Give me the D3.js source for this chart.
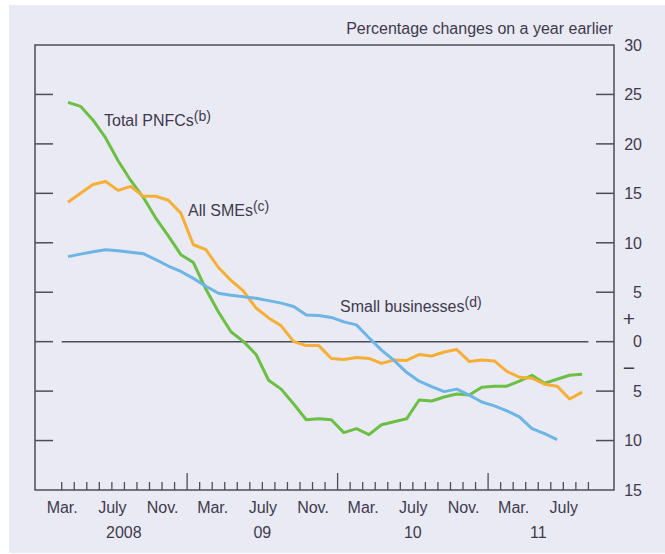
<!DOCTYPE html>
<html>
<head>
<meta charset="utf-8">
<script src="https://cdn.jsdelivr.net/npm/d3@7"></script>
<style>
  html, body { margin: 0; padding: 0; background: #ffffff; }
  svg { display: block; }
  text { font-family: "Liberation Sans", Arial, sans-serif; fill: #3e3a4e; }
</style>
</head>
<body>
<svg id="chart" width="665" height="554"></svg>
<script>
// ---- Data (monthly, March 2008 onwards) ----
const startMonth = "Mar. 2008";
const totalPNFCs = [24.2, 23.8, 22.4, 20.6, 18.3, 16.3, 14.6, 12.5, 10.7, 8.8,
  8.0, 5.3, 3.0, 1.0, 0.0, -1.3, -3.9, -4.8, -6.3, -7.9,
  -7.8, -7.9, -9.2, -8.8, -9.4, -8.4, -8.1, -7.8, -5.9, -6.0,
  -5.6, -5.3, -5.4, -4.6, -4.5, -4.5, -4.0, -3.4, -4.2, -3.8,
  -3.4, -3.3];
const allSMEs = [14.1, 15.0, 15.9, 16.2, 15.3, 15.7, 14.7, 14.7, 14.3, 13.0,
  9.8, 9.3, 7.5, 6.2, 5.1, 3.4, 2.4, 1.6, 0.0, -0.4,
  -0.4, -1.7, -1.8, -1.6, -1.7, -2.2, -1.85, -1.9, -1.3, -1.45,
  -1.05, -0.8, -2.0, -1.85, -1.95, -3.0, -3.6, -3.7, -4.3, -4.5,
  -5.8, -5.1];
const smallBusinesses = [8.6, 8.85, 9.1, 9.3, 9.2, 9.05, 8.9, 8.3, 7.65, 7.1,
  6.4, 5.6, 4.9, 4.7, 4.55, 4.4, 4.15, 3.9, 3.55, 2.7,
  2.65, 2.45, 2.0, 1.7, 0.4, -0.85, -1.9, -3.1, -4.0, -4.55,
  -5.05, -4.8, -5.4, -6.1, -6.5, -7.0, -7.6, -8.8, -9.3, -9.9];

const monthLabels = ["Mar.", "July", "Nov.", "Mar.", "July", "Nov.", "Mar.", "July", "Nov.", "Mar.", "July"];
const monthLabelIdx = [0, 4, 8, 12, 16, 20, 24, 28, 32, 36, 40];   // months after start of Mar. 2008
const yearLabels = ["2008", "09", "10", "11"];
const yearLabelPos = [4.95, 16, 28, 38];
const yearBoundaries = [10, 22, 34];  // Jan 2009, Jan 2010, Jan 2011
const yTicks = [30, 25, 20, 15, 10, 5, 0, -5, -10, -15];
const yTickLabels = ["30", "25", "20", "15", "10", "5", "0", "5", "10", "15"];

const seriesNames = ["Total PNFCs", "All SMEs", "Small businesses"];
const seriesNotes = ["(b)", "(c)", "(d)"];
const seriesColors = ["#6cbf45", "#f6af36", "#6cb5e5"];
const title = "Percentage changes on a year earlier";

// ---- Layout ----
const svg = d3.select("#chart");
const L = 35, R = 614, T = 45, B = 490;

svg.append("rect").attr("x", 9).attr("y", 5).attr("width", 656).attr("height", 548)
  .attr("fill", "#eaeaf4");

const x = d3.scaleLinear().domain([-2.13, 44.04]).range([L, R]);
const y = d3.scaleLinear().domain([-15, 30]).range([B, T]);

const axisColor = "#4d4d55";

// frame
svg.append("rect").attr("x", L).attr("y", T).attr("width", R - L).attr("height", B - T)
  .attr("fill", "none").attr("stroke", axisColor).attr("stroke-width", 1.5);

// y ticks (inside, both sides)
const innerTicks = yTicks.filter(v => v < 30 && v > -15);
svg.append("g").selectAll("line").data(innerTicks).join("line")
  .attr("x1", L).attr("x2", L + 18).attr("y1", d => y(d)).attr("y2", d => y(d))
  .attr("stroke", axisColor).attr("stroke-width", 1.5);
svg.append("g").selectAll("line").data(innerTicks).join("line")
  .attr("x1", R - 18).attr("x2", R).attr("y1", d => y(d)).attr("y2", d => y(d))
  .attr("stroke", axisColor).attr("stroke-width", 1.5);

// y labels on right
svg.append("g").selectAll("text").data(yTicks).join("text")
  .attr("x", 642).attr("y", d => y(d)).attr("dy", "0.36em")
  .attr("text-anchor", "end").attr("font-size", 16)
  .text((d, i) => yTickLabels[i]);
svg.append("text").attr("x", 629).attr("y", y(2.3)).attr("dy", "0.36em")
  .attr("text-anchor", "middle").attr("font-size", 21).text("+");
svg.append("text").attr("x", 629).attr("y", y(-2.6)).attr("dy", "0.36em")
  .attr("text-anchor", "middle").attr("font-size", 21).text("\u2212");

// zero line
svg.append("line").attr("x1", x(0)).attr("x2", x(42)).attr("y1", y(0)).attr("y2", y(0))
  .attr("stroke", axisColor).attr("stroke-width", 1.5);

// x ticks
const monthTicks = d3.range(0, 43);
svg.append("g").selectAll("line").data(monthTicks).join("line")
  .attr("x1", d => x(d)).attr("x2", d => x(d))
  .attr("y1", B).attr("y2", d => yearBoundaries.includes(d) ? B - 17 : B - 8)
  .attr("stroke", axisColor).attr("stroke-width", 1.3);

svg.append("g").selectAll("text").data(monthLabels).join("text")
  .attr("x", (d, i) => x(monthLabelIdx[i]) + 0.5).attr("y", 513)
  .attr("text-anchor", "middle").attr("font-size", 16).text(d => d);
svg.append("g").selectAll("text").data(yearLabels).join("text")
  .attr("x", (d, i) => x(yearLabelPos[i])).attr("y", 538)
  .attr("text-anchor", "middle").attr("font-size", 16).text(d => d);

// title
svg.append("text").attr("x", 613).attr("y", 34).attr("text-anchor", "end")
  .attr("font-size", 16).text(title);

// lines
const allSeries = [totalPNFCs, allSMEs, smallBusinesses];
const line = d3.line().x((d, i) => x(i + 0.5)).y(d => y(d));
svg.append("g").selectAll("path").data(allSeries).join("path")
  .attr("d", d => line(d)).attr("fill", "none")
  .attr("stroke", (d, i) => seriesColors[i]).attr("stroke-width", 3)
  .attr("stroke-linejoin", "round");

// series labels
const labelPos = [[104, 126], [188, 216], [340, 311.5]];
seriesNames.forEach((name, i) => {
  const t = svg.append("text").attr("x", labelPos[i][0]).attr("y", labelPos[i][1])
    .attr("font-size", 16);
  t.append("tspan").text(name);
  t.append("tspan").attr("dy", -5).attr("font-size", 14).text(seriesNotes[i]);
});
</script>
</body>
</html>
